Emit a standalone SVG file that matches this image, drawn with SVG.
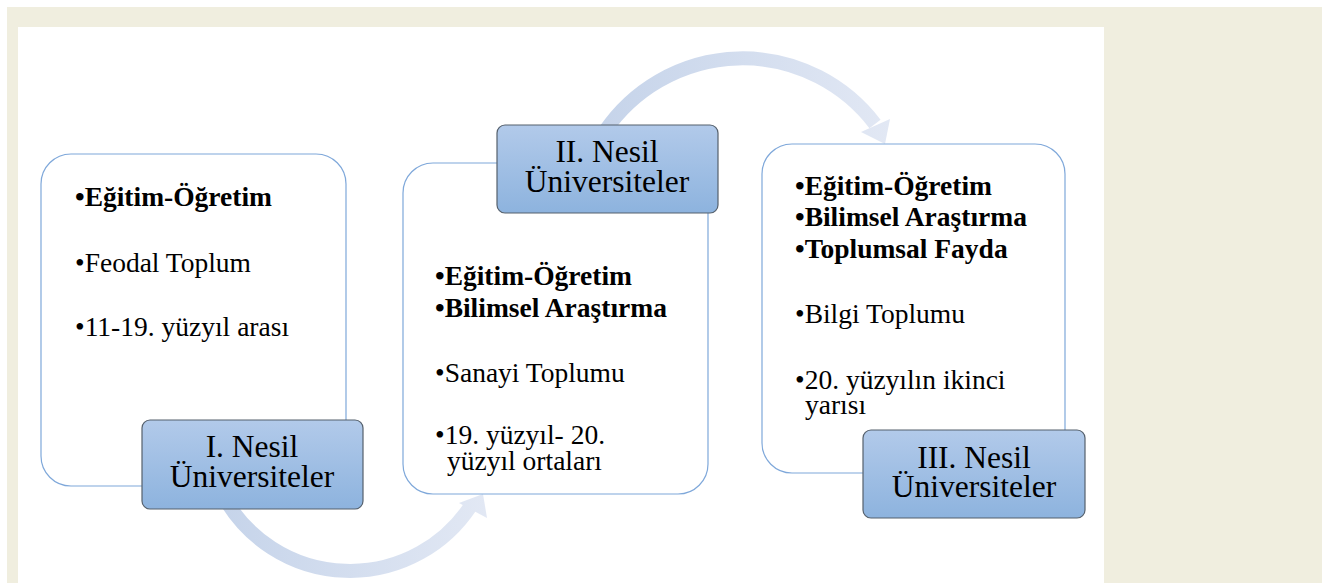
<svg xmlns="http://www.w3.org/2000/svg" width="1322" height="583" viewBox="0 0 1322 583">
  <defs>
    <linearGradient id="labelFill" x1="0" y1="0" x2="0" y2="1">
      <stop offset="0" stop-color="#B2CAEA"/>
      <stop offset="1" stop-color="#8DB3DE"/>
    </linearGradient>
    <linearGradient id="arrowFill1" gradientUnits="userSpaceOnUse" x1="225" y1="0" x2="486" y2="0">
      <stop offset="0" stop-color="#C6D4EA"/>
      <stop offset="1" stop-color="#E2E8F4"/>
    </linearGradient>
    <linearGradient id="arrowFill2" gradientUnits="userSpaceOnUse" x1="605" y1="0" x2="891" y2="0">
      <stop offset="0" stop-color="#C6D4EA"/>
      <stop offset="1" stop-color="#E2E8F4"/>
    </linearGradient>
    <style>
      .panel { fill: #FFFFFF; stroke: #7FA8DA; stroke-width: 1.2; }
      .label { fill: url(#labelFill); stroke: #55606C; stroke-width: 1.2; }
      .txt { font-family: "Liberation Serif", "Times New Roman", serif; font-size: 27.5px; fill: #000000; }
      .b { font-weight: bold; }
      .lbl { font-family: "Liberation Serif", "Times New Roman", serif; font-size: 31.5px; fill: #000000; text-anchor: middle; }
    </style>
  </defs>

  <!-- page background -->
  <rect x="0" y="0" width="1322" height="583" fill="#FFFFFF"/>
  <rect x="7" y="7" width="1315" height="576" fill="#F0EEDF"/>
  <rect x="18" y="27" width="1086" height="556" fill="#FFFFFF"/>

  <!-- curved connectors -->
  <g id="connectors">
    <path d="M225,499 A144.6,144.6 0 0 0 470,507" fill="none" stroke="url(#arrowFill1)" stroke-width="14"/>
    <polygon points="459,503 483,494 487,518" fill="url(#arrowFill1)"/>
    <path d="M605,131 A166.5,166.5 0 0 1 875,124" fill="none" stroke="url(#arrowFill2)" stroke-width="14"/>
    <polygon points="861,132 885,144 890,119" fill="url(#arrowFill2)"/>
  </g>

  <!-- first generation -->
  <g id="gen1">
    <rect class="panel" x="41" y="154" width="305" height="332" rx="30"/>
    <text class="txt b" x="75" y="206">•Eğitim-Öğretim</text>
    <text class="txt" x="75" y="272">•Feodal Toplum</text>
    <text class="txt" x="75" y="336">•11-19. yüzyıl arası</text>
  </g>
  <g id="gen1-label">
    <rect class="label" x="142" y="420" width="221" height="89" rx="8"/>
    <text class="lbl" x="252" y="457">I. Nesil<tspan x="252" dy="30">Üniversiteler</tspan></text>
  </g>

  <!-- second generation -->
  <g id="gen2">
    <rect class="panel" x="403" y="163" width="305" height="331" rx="30"/>
    <text class="txt b" x="435" y="285">•Eğitim-Öğretim</text>
    <text class="txt b" x="435" y="317">•Bilimsel Araştırma</text>
    <text class="txt" x="435" y="382">•Sanayi Toplumu</text>
    <text class="txt" x="435" y="444">•19. yüzyıl- 20.<tspan x="447" dy="26">yüzyıl ortaları</tspan></text>
  </g>
  <g id="gen2-label">
    <rect class="label" x="497" y="125" width="221" height="88" rx="8"/>
    <text class="lbl" x="607" y="162">II. Nesil<tspan x="607" dy="30">Üniversiteler</tspan></text>
  </g>

  <!-- third generation -->
  <g id="gen3">
    <rect class="panel" x="762" y="144" width="303" height="329" rx="30"/>
    <text class="txt b" x="795" y="195">•Eğitim-Öğretim</text>
    <text class="txt b" x="795" y="226">•Bilimsel Araştırma</text>
    <text class="txt b" x="795" y="258">•Toplumsal Fayda</text>
    <text class="txt" x="795" y="323">•Bilgi Toplumu</text>
    <text class="txt" x="795" y="389">•20. yüzyılın ikinci<tspan x="805" dy="25">yarısı</tspan></text>
  </g>
  <g id="gen3-label">
    <rect class="label" x="863" y="430" width="222" height="88" rx="8"/>
    <text class="lbl" x="974" y="468">III. Nesil<tspan x="974" dy="29">Üniversiteler</tspan></text>
  </g>
</svg>
